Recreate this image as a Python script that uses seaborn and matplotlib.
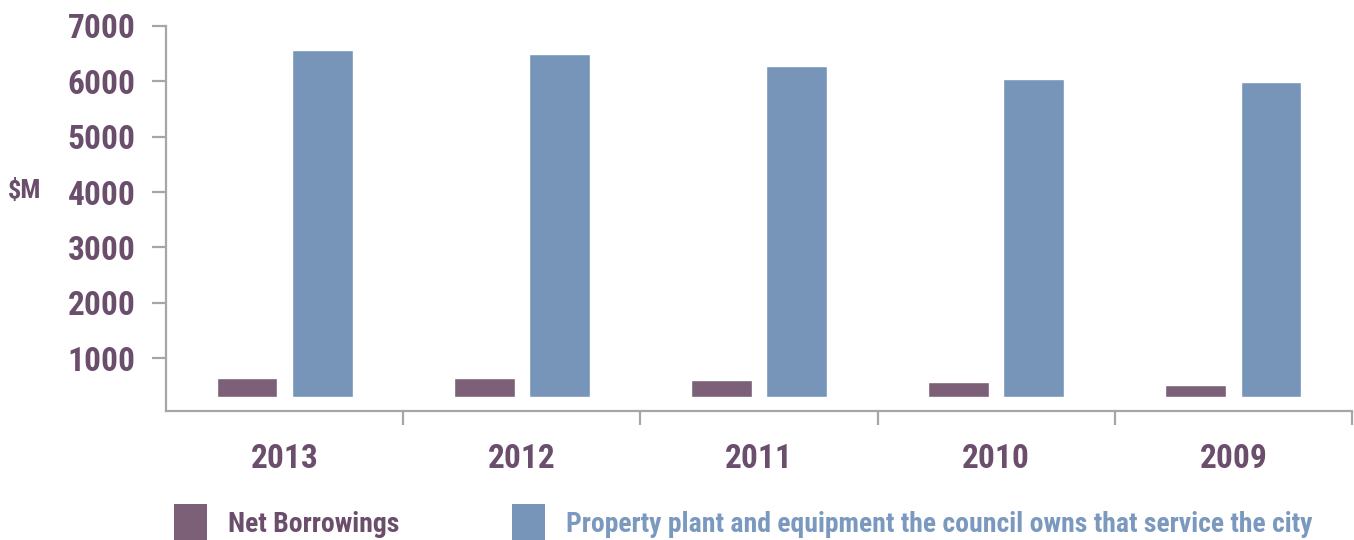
import matplotlib
matplotlib.use("Agg")
import matplotlib.pyplot as plt
import matplotlib.font_manager as fm
from matplotlib.patches import Patch
from matplotlib.ticker import FixedLocator
import seaborn as sns
import pandas as pd

# data
years = ["2013", "2012", "2011", "2010", "2009"]
net_borrowings = [640, 640, 600, 565, 512]
property_plant = [6566, 6494, 6277, 6042, 5988]
series_names = ["Net Borrowings",
                "Property plant and equipment the council owns that service the city"]
base = 300  # bars start here in the original

PURPLE = "#7b6078"
BLUE = "#7795b9"
TEXT_PURPLE = "#6a4e6b"
TEXT_BLUE = "#7b99bf"
GREY = "#a6a6a6"

sns.set_theme(style="white")

# condensed bold face, like the original
bold_fonts = {f.name for f in fm.fontManager.ttflist if f.weight >= 600}
family = "DejaVu Sans"
for cand in ["Roboto Condensed", "Barlow Condensed", "Archivo Narrow",
             "Sofia Sans Condensed", "Liberation Sans Narrow"]:
    if cand in bold_fonts:
        family = cand
        break
plt.rcParams['font.family'] = [family, 'DejaVu Sans']

df = pd.DataFrame({
    "year": years * 2,
    "series": [series_names[0]] * len(years) + [series_names[1]] * len(years),
    "value": net_borrowings + property_plant,
})
df["height"] = df["value"] - base

fig = plt.figure(figsize=(13.54, 5.4), dpi=100)
ax = fig.add_axes([166 / 1354, 1 - 410.7 / 540, 1186 / 1354, 384.7 / 540])

palette = [PURPLE, BLUE]
sns.barplot(data=df, x="year", y="height", hue="series", order=years,
            hue_order=series_names, palette=palette, width=0.634,
            gap=0.19, bottom=base, saturation=1, ax=ax, legend=False)

ax.set_xlim(-0.5, 4.5)
ax.set_ylim(50, 7000)
ax.set_yticks([1000, 2000, 3000, 4000, 5000, 6000, 7000])
ax.set_xlabel("")
ax.set_ylabel("")

for side in ["top", "right"]:
    ax.spines[side].set_visible(False)
for side in ["left", "bottom"]:
    ax.spines[side].set_color(GREY)
    ax.spines[side].set_linewidth(1.6)

ax.tick_params(axis="y", left=True, length=10, width=1.6, color=GREY, pad=12,
               labelsize=24, labelcolor=TEXT_PURPLE)
ax.tick_params(axis="x", which="major", bottom=False, length=0, pad=23,
               labelsize=24, labelcolor=TEXT_PURPLE)
ax.xaxis.set_minor_locator(FixedLocator([0.5, 1.5, 2.5, 3.5, 4.5]))
ax.tick_params(axis="x", which="minor", bottom=True, length=10, width=1.6,
               color=GREY, direction="out")
for lbl in ax.get_yticklabels() + ax.get_xticklabels():
    lbl.set_fontweight("bold")

fig.text(8 / 1354, 1 - 191 / 540, "$M", fontsize=19, fontweight="bold",
         color=TEXT_PURPLE, va="center", ha="left")

handles = [Patch(facecolor=c, edgecolor="none") for c in palette]
leg = fig.legend(handles, series_names, loc="center left",
                 bbox_to_anchor=(174 / 1354, 1 - 523 / 540), ncol=2, frameon=False,
                 prop={"size": 20, "weight": "bold"}, handlelength=1.19,
                 handleheight=1.7, handletextpad=0.76, columnspacing=4.05,
                 borderaxespad=0, borderpad=0)
for txt, col in zip(leg.get_texts(), [TEXT_PURPLE, TEXT_BLUE]):
    txt.set_color(col)

fig.savefig("out.png", dpi=100)
